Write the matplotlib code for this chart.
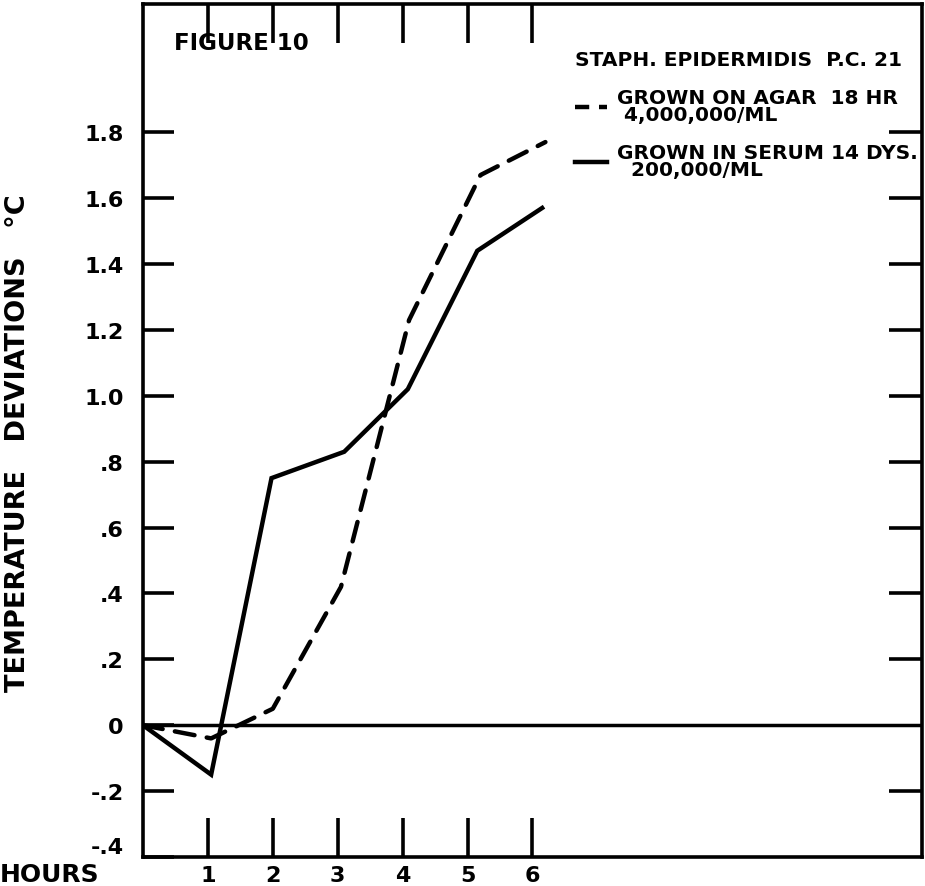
import matplotlib
matplotlib.use("Agg")
import matplotlib.pyplot as plt
from matplotlib.lines import Line2D

plt.rcParams["font.family"] = "DejaVu Sans"
plt.rcParams["font.weight"] = "bold"

# hours after injection and temperature deviation (deg C)
agar_hours = [0, 1.05, 2.0, 3.05, 4.1, 5.2, 6.2]
agar_temp = [0, -0.04, 0.05, 0.42, 1.23, 1.67, 1.77]
serum_hours = [0, 1.05, 1.98, 3.1, 4.08, 5.15, 6.15]
serum_temp = [0, -0.15, 0.75, 0.83, 1.02, 1.44, 1.57]

hour_ticks = [1, 2, 3, 4, 5, 6]
temp_ticks = [1.8, 1.6, 1.4, 1.2, 1.0, 0.8, 0.6, 0.4, 0.2, 0, -0.2, -0.4]
temp_labels = ["1.8", "1.6", "1.4", "1.2", "1.0", ".8", ".6", ".4", ".2", "0", "-.2", "-.4"]
right_ticks = [1.8, 1.6, 1.4, 1.2, 1.0, 0.8, 0.6, 0.4, 0.2, -0.2]

fig = plt.figure(figsize=(9.25, 8.87), dpi=100)
ax = fig.add_axes([0.1546, 0.0327, 0.842, 0.962])

ax.plot(agar_hours, agar_temp, c="black", lw=3.2, ls=(0, (4.5, 2.8)),
        dash_capstyle="round")
ax.plot(serum_hours, serum_temp, c="black", lw=3.2, solid_joinstyle="miter")
ax.axhline(0, c="black", lw=2.5)

ax.set_xlim(0, 12)
ax.set_ylim(-0.4, 2.19)

for s in ax.spines.values():
    s.set_linewidth(2.6)

ax.set_xticks(hour_ticks)
ax.set_xticklabels([str(h) for h in hour_ticks], fontsize=16, fontweight="bold")
ax.set_yticks(temp_ticks)
ax.set_yticklabels(temp_labels, fontsize=16, fontweight="bold")
ax.get_yticklabels()[-1].set_va("bottom")
ax.tick_params(axis="both", direction="in", width=2.6, top=True, right=False)
ax.tick_params(axis="x", length=28, pad=6)
ax.tick_params(axis="y", length=22, pad=14)

# right side ticks
ax2 = ax.twinx()
ax2.set_ylim(ax.get_ylim())
ax2.set_yticks(right_ticks)
ax2.set_yticklabels([])
ax2.tick_params(axis="y", direction="in", length=24, width=2.6)
for s in ax2.spines.values():
    s.set_visible(False)

ax.text(0.04, 0.955, "FIGURE 10", transform=ax.transAxes, fontsize=16.5,
        fontweight="bold", ha="left", va="center")

# legend keys drawn short, like the hand-lettered key
agar_key = Line2D([], [], c="black", lw=3.2, ls=(0, (3.2, 2.2)))
serum_key = Line2D([], [], c="black", lw=3.2)
leg = ax.legend([agar_key, serum_key],
                ["GROWN ON AGAR  18 HR\n 4,000,000/ML",
                 "GROWN IN SERUM 14 DYS.\n  200,000/ML"],
                title="STAPH. EPIDERMIDIS  P.C. 21",
                loc="upper right", bbox_to_anchor=(1.013, 0.962),
                frameon=False, fontsize=14.5, title_fontsize=14.5,
                handlelength=1.6, handletextpad=0.5, labelspacing=0.95,
                alignment="left", borderaxespad=0.3)
plt.setp(leg.get_title(), fontweight="bold")
for t in leg.get_texts():
    t.set_fontweight("bold")
    t.set_linespacing(0.85)

fig.text(0.02, 0.5, "TEMPERATURE   DEVIATIONS   °C", rotation=90, fontsize=19.5,
         fontweight="bold", ha="center", va="center")
fig.text(0.0, 0.013, "HOURS", fontsize=18, fontweight="bold", ha="left", va="center")

fig.savefig("out.png", dpi=100)
